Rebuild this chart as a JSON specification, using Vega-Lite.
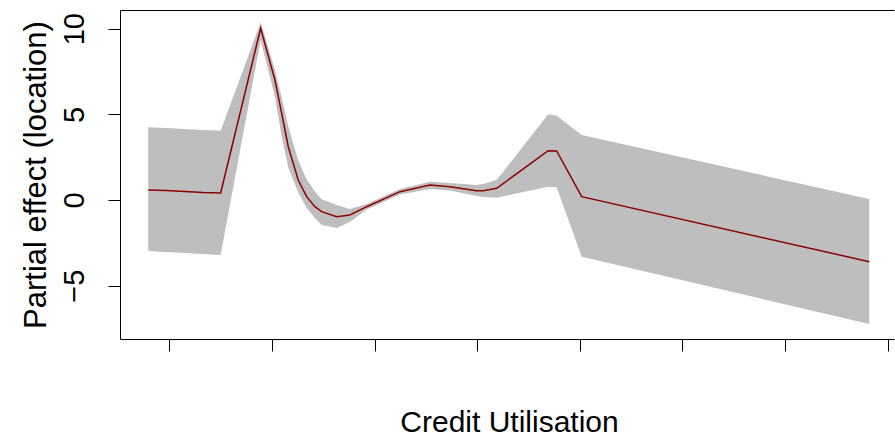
{
  "$schema": "https://vega.github.io/schema/vega-lite/v6.json",
  "autosize": {"type": "none"},
  "width": 774,
  "height": 329,
  "padding": {"left": 120, "top": 10, "right": 1, "bottom": 98},
  "background": "white",
  "config": {
    "view": {"stroke": null},
    "font": "Liberation Sans",
    "axis": {"grid": false, "domainColor": "#000000", "tickColor": "#000000", "labelColor": "#000000", "titleColor": "#000000", "titleFontWeight": "normal", "labelFont": "Liberation Sans", "titleFont": "Liberation Sans"}
  },
  "data": {"values": [
    {"x": -0.207, "fit": 0.584, "upper": 4.244, "lower": -2.977},
    {"x": -0.034, "fit": 0.555, "upper": 4.203, "lower": -3.036},
    {"x": 0.151, "fit": 0.496, "upper": 4.145, "lower": -3.094},
    {"x": 0.329, "fit": 0.438, "upper": 4.086, "lower": -3.152},
    {"x": 0.499, "fit": 0.409, "upper": 4.046, "lower": -3.211},
    {"x": 0.889, "fit": 10.023, "upper": 10.374, "lower": 9.340},
    {"x": 1.028, "fit": 7.005, "upper": 7.6, "lower": 6.042},
    {"x": 1.094, "fit": 5.061, "upper": 6.0, "lower": 3.7},
    {"x": 1.158, "fit": 3.111, "upper": 4.3, "lower": 1.9},
    {"x": 1.255, "fit": 1.168, "upper": 2.3, "lower": 0.45},
    {"x": 1.337, "fit": 0.193, "upper": 1.2, "lower": -0.467},
    {"x": 1.418, "fit": -0.391, "upper": 0.5, "lower": -1.051},
    {"x": 1.483, "fit": -0.683, "upper": 0.05, "lower": -1.459},
    {"x": 1.630, "fit": -0.975, "upper": -0.292, "lower": -1.635},
    {"x": 1.759, "fit": -0.876, "upper": -0.525, "lower": -1.284},
    {"x": 1.922, "fit": -0.391, "upper": -0.234, "lower": -0.555},
    {"x": 2.247, "fit": 0.485, "upper": 0.642, "lower": 0.321},
    {"x": 2.539, "fit": 0.876, "upper": 1.068, "lower": 0.642},
    {"x": 2.734, "fit": 0.776, "upper": 0.992, "lower": 0.555},
    {"x": 2.994, "fit": 0.543, "upper": 0.876, "lower": 0.234},
    {"x": 3.058, "fit": 0.543, "upper": 0.934, "lower": 0.175},
    {"x": 3.189, "fit": 0.683, "upper": 1.168, "lower": 0.134},
    {"x": 3.692, "fit": 2.878, "upper": 5.003, "lower": 0.776},
    {"x": 3.774, "fit": 2.860, "upper": 4.921, "lower": 0.741},
    {"x": 4.018, "fit": 0.193, "upper": 3.795, "lower": -3.310},
    {"x": 6.821, "fit": -3.602, "upper": 0.058, "lower": -7.239}
  ]},
  "resolve": {"axis": {"x": "independent"}},
  "layer": [
    {
      "mark": {"type": "area", "color": "#BEBEBE", "opacity": 1},
      "encoding": {
        "x": {"field": "x", "type": "quantitative",
              "scale": {"domain": [-0.482, 7.062], "nice": false, "zero": false},
              "axis": {"orient": "bottom", "values": [0, 1, 2, 3, 4, 5, 6, 7], "labels": false, "tickSize": 12, "domainWidth": 1, "tickWidth": 1,
                       "title": "Credit Utilisation", "titleFontSize": 30, "titleX": 389, "titleY": 92, "titleBaseline": "alphabetic", "titleAlign": "center", "titleAnchor": null}},
        "y": {"field": "lower", "type": "quantitative",
              "scale": {"domain": [-8.115, 11.092], "nice": false, "zero": false},
              "axis": {"orient": "left", "values": [-5, 0, 5, 10], "tickSize": 12, "labelFontSize": 29, "labelAngle": 270, "labelAlign": "center", "labelBaseline": "alphabetic", "labelPadding": 25,
                       "title": "Partial effect (location)", "titleFontSize": 31, "titleAngle": 270, "titleX": -75, "titleY": 164.5, "titleBaseline": "alphabetic", "titleAlign": "center"}},
        "y2": {"field": "upper"}
      }
    },
    {
      "mark": {"type": "line", "color": "#8B0000", "strokeWidth": 1.5},
      "encoding": {
        "x": {"field": "x", "type": "quantitative",
              "scale": {"domain": [-0.482, 7.062], "nice": false, "zero": false},
              "axis": {"orient": "top", "ticks": false, "labels": false, "title": null, "domainWidth": 1}},
        "y": {"field": "fit", "type": "quantitative"}
      }
    }
  ]
}
